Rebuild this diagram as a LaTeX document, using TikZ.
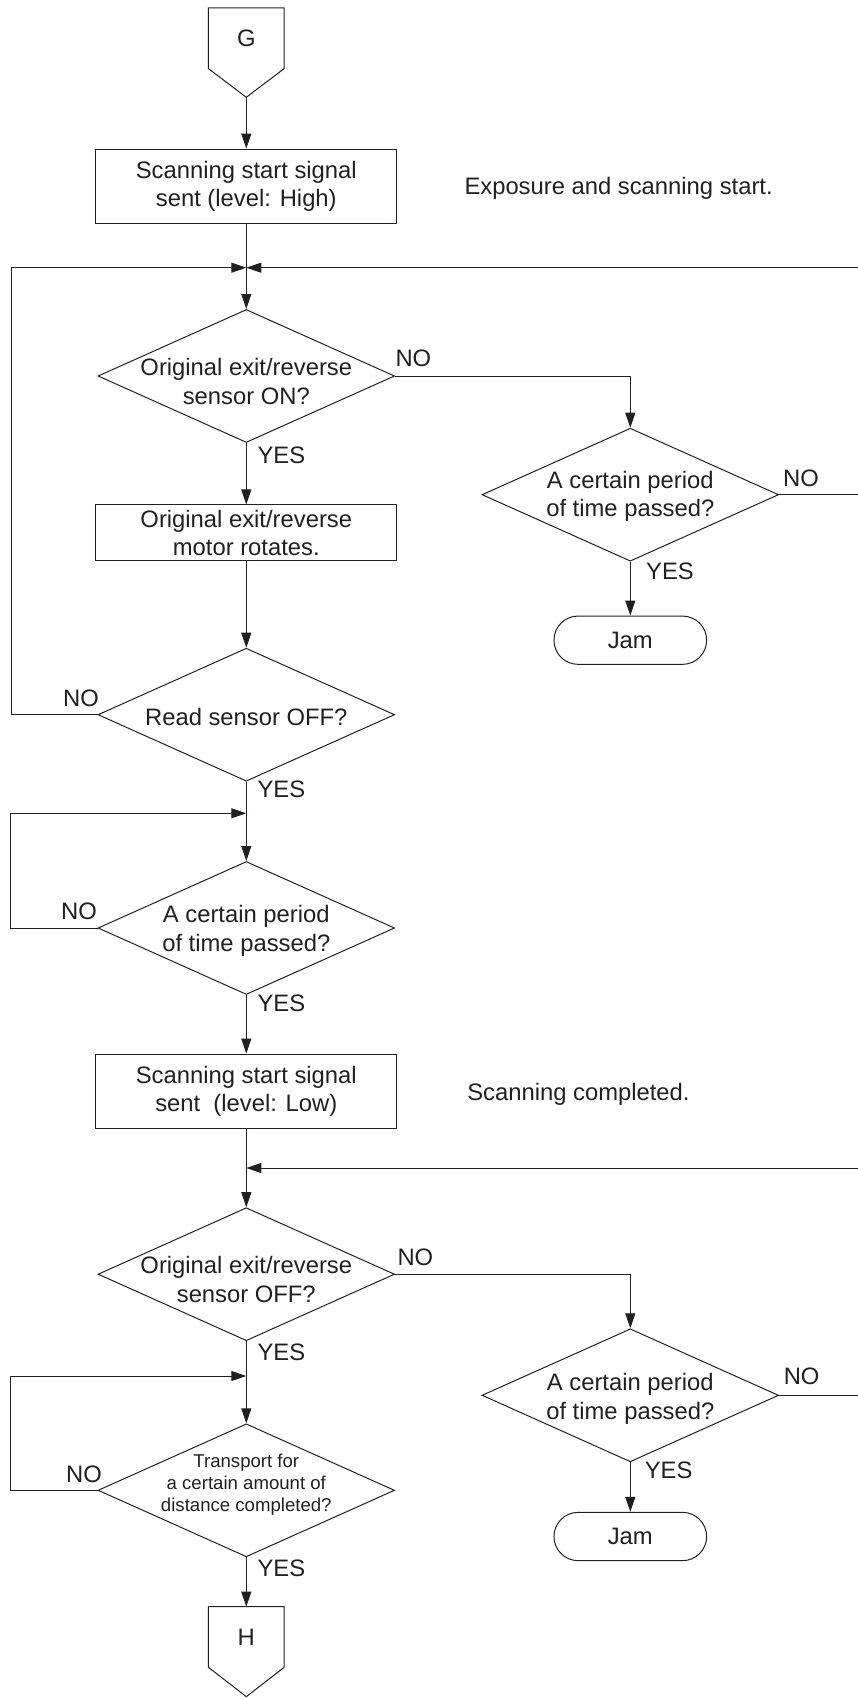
\documentclass[tikz,border=0pt]{standalone}
\usepackage{fontspec}
\setmainfont{Liberation Sans}
\usetikzlibrary{arrows.meta,shapes.geometric,shapes.misc}
\definecolor{ink}{HTML}{231F20}

\begin{document}
\begin{tikzpicture}[x=1pt,y=-1pt,line width=1pt,color=ink,
    >={Triangle[length=15pt,width=10pt]},font=\fontsize{23.8}{28.3}\selectfont]
  \tikzstyle{process}=[rectangle,draw,minimum width=300.7pt,minimum height=74.3pt,inner sep=0pt,align=center]
  \tikzstyle{decision}=[diamond,draw,minimum width=296.6pt,minimum height=133pt,inner sep=0pt]
  \tikzstyle{question}=[inner sep=0pt,align=center]
  \tikzstyle{terminal}=[rounded rectangle,draw,minimum width=152.7pt,minimum height=48.3pt,inner sep=0pt]
  \tikzstyle{offpage}=[rectangle,minimum width=74.7pt,minimum height=59.6pt,inner sep=0pt]
  \tikzstyle{answer}=[anchor=base west,inner sep=0pt]
  \tikzstyle{note}=[anchor=base west,inner sep=0pt]

  \useasboundingbox (0,0) rectangle (858,1699);

  \node[offpage] (G) at (246.3,38.3) {G};
  \coordinate (Gtip) at (246.3,97.3);
  \draw (G.south west) -- (G.north west) -- (G.north east) -- (G.south east) -- (Gtip) -- cycle;

  \node[process] (b1) at (246.3,186.2) {Scanning start signal\\sent (level: High)};
  \node[note] (e1) at (464,194.5) {Exposure and scanning start.};

  \node[decision] (d1) at (246.3,376) {};
  \node[question] (q1) at (246.3,381.6) {Original exit/reverse\\sensor ON?};
  \node[decision] (d2) at (630.3,494.7) {};
  \node[question] (q2) at (630.3,496.4) {A certain period\\of time passed?};
  \node[terminal] (jam1) at (630.3,640.2) {Jam};
  \node[process,minimum height=55.7pt] (b2) at (246.3,532.8) {Original exit/reverse\\motor rotates.};
  \node[decision] (d3) at (246.3,714.7) {};
  \node[question] (q3) at (246.3,716.5) {Read sensor OFF?};
  \node[decision] (d4) at (246.3,928) {};
  \node[question] (q4) at (246.3,930.7) {A certain period\\of time passed?};
  \node[process] (b3) at (246.3,1091.2) {Scanning start signal\\sent~ (level: Low)};
  \node[note] (e2) at (466.8,1100) {Scanning completed.};
  \node[decision] (d5) at (246.3,1274.2) {};
  \node[question] (q5) at (246.3,1279.6) {Original exit/reverse\\sensor OFF?};
  \node[decision] (d6) at (630.3,1395.3) {};
  \node[question] (q6) at (630.3,1398.7) {A certain period\\of time passed?};
  \node[terminal] (jam2) at (630.3,1536.5) {Jam};
  \node[decision] (d7) at (246.3,1490.3) {};
  \node[question,font=\fontsize{18.6}{21.7}\selectfont] (q7) at (246.3,1484.5) {Transport for\\a certain amount of\\distance completed?};

  \node[offpage] (H) at (246.3,1637) {H};
  \coordinate (Htip) at (246.3,1696.7);
  \draw (H.south west) -- (H.north west) -- (H.north east) -- (H.south east) -- (Htip) -- cycle;

  % loop junctions
  \coordinate (j1) at (246.3,267.7);
  \coordinate (j1l) at (11,267.7);
  \coordinate (j1r) at (866,267.7);
  \coordinate (j2) at (246.3,813.3);
  \coordinate (j2l) at (10,813.3);
  \coordinate (j3) at (246.3,1168);
  \coordinate (j3r) at (866,1168);
  \coordinate (j4) at (246.3,1376);
  \coordinate (j4l) at (10,1376);

  \draw[->] (Gtip) -- (b1.north);
  \draw[->] (b1.south) -- (d1.north);
  \draw[->] (d1.south) -- (b2.north);
  \draw[->] (d1.east) -| (d2.north);
  \draw[->] (d2.east) -| (j1r) -- (j1);
  \draw[->] (d2.south) -- (jam1.north);
  \draw[->] (b2.south) -- (d3.north);
  \draw[->] (d3.west) -| (j1l) -- (j1);
  \draw[->] (d3.south) -- (d4.north);
  \draw[->] (d4.west) -| (j2l) -- (j2);
  \draw[->] (d4.south) -- (b3.north);
  \draw[->] (b3.south) -- (d5.north);
  \draw[->] (d5.east) -| (d6.north);
  \draw[->] (d6.east) -| (j3r) -- (j3);
  \draw[->] (d6.south) -- (jam2.north);
  \draw[->] (d5.south) -- (d7.north);
  \draw[->] (d7.west) -| (j4l) -- (j4);
  \draw[->] (d7.south) -- (H.north);

  \node[answer] (n1) at (395,366) {NO};
  \node[answer] (y1) at (257,463.3) {YES};
  \node[answer] (n2) at (782.7,486.7) {NO};
  \node[answer] (y2) at (645.7,579.3) {YES};
  \node[answer] (n3) at (62.7,706.7) {NO};
  \node[answer] (y3) at (257,797) {YES};
  \node[answer] (n4) at (60.7,919) {NO};
  \node[answer] (y4) at (257,1011.7) {YES};
  \node[answer] (n5) at (397,1265) {NO};
  \node[answer] (y5) at (257,1360) {YES};
  \node[answer] (n6) at (783.3,1384.3) {NO};
  \node[answer] (y6) at (644.3,1478.3) {YES};
  \node[answer] (n7) at (65.7,1482.3) {NO};
  \node[answer] (y7) at (257,1576.7) {YES};
\end{tikzpicture}
\end{document}
